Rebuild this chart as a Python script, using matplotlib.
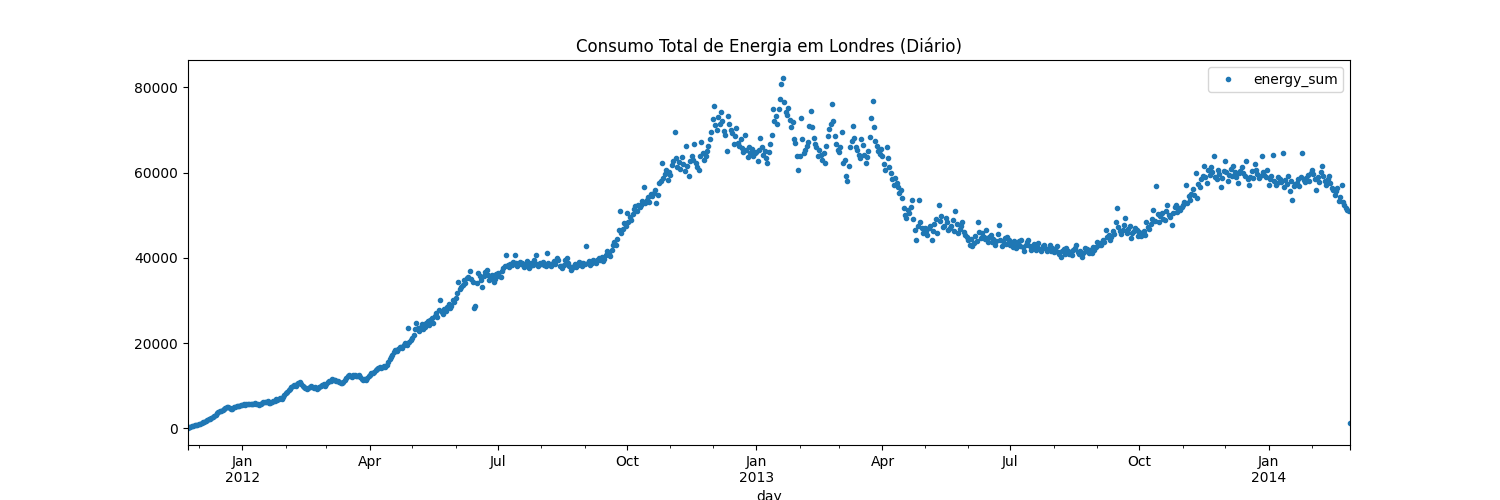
import matplotlib
matplotlib.use('Agg')
import matplotlib.pyplot as plt
import numpy as np
import pandas as pd

# Daily total energy in London, in thousands of kWh
start_day = '2011-11-23'

energy_2011 = [
    # Nov
    0.2, 0.3, 0.4, 0.5, 0.6, 0.7, 0.8, 0.9,
    # Dec
    1.0, 1.1, 1.3, 1.4, 1.6, 1.8, 1.9, 2.1, 2.3, 2.5,
    2.7, 3.0, 3.2, 3.5, 3.8, 4.0, 4.1, 4.3, 4.6, 4.8,
    4.9, 5.0, 4.8, 4.5, 4.6, 4.9, 5.1, 5.2, 5.3, 5.2, 5.4,
]

energy_2012 = [
    # Jan
    5.5, 5.6, 5.5, 5.7, 5.6, 5.8, 5.7, 5.6, 5.8, 5.9,
    5.8, 5.6, 5.5, 5.8, 6.0, 6.1, 6.2, 6.1, 6.3, 6.0,
    5.9, 6.2, 6.4, 6.5, 6.8, 6.7, 6.9, 7.1, 7.0, 7.4, 7.8,
    # Feb
    8.2, 8.5, 8.9, 9.3, 9.6, 9.9, 10.2, 10.0, 10.4, 10.6,
    10.9, 10.5, 10.0, 9.6, 9.4, 9.2, 9.5, 9.8, 9.9, 9.7,
    9.5, 9.6, 9.3, 9.4, 9.7, 9.9, 10.1, 10.3, 10.0,
    # Mar
    10.4, 10.8, 11.2, 11.0, 11.5, 11.4, 11.3, 11.1, 11.2, 10.9,
    10.7, 10.6, 10.9, 11.4, 11.9, 12.2, 12.5, 12.3, 12.1, 12.4,
    12.6, 12.2, 12.3, 12.5, 12.0, 11.6, 11.4, 11.5, 11.3, 11.8, 12.3,
    # Apr
    12.6, 12.9, 13.0, 13.3, 13.6, 13.9, 14.2, 14.4, 14.1, 14.3,
    14.6, 14.4, 14.9, 15.5, 16.2, 16.8, 17.3, 17.8, 18.4, 18.1,
    18.6, 19.0, 19.1, 18.8, 19.5, 20.0, 19.6, 23.5, 20.2, 20.7,
    # May
    21.2, 22.0, 23.2, 24.7, 23.6, 22.9, 23.8, 24.5, 23.3, 23.8,
    24.6, 25.1, 24.2, 25.4, 25.9, 24.8, 26.3, 27.0, 26.1, 27.8,
    30.1, 27.4, 26.9, 28.0, 27.6, 28.5, 29.1, 28.2, 28.7, 30.2, 29.7,
    # Jun
    30.5, 31.7, 34.4, 32.6, 33.1, 33.6, 34.9, 34.0, 35.2, 35.6,
    36.8, 35.1, 34.3, 28.3, 28.8, 34.0, 36.4, 35.7, 34.9, 33.2,
    35.8, 36.6, 37.2, 35.9, 34.8, 35.3, 36.0, 34.4, 35.1, 36.2,
    # Jul
    36.4, 35.8, 35.6, 36.9, 37.5, 38.0, 40.7, 38.4, 37.9, 38.6,
    38.3, 39.0, 40.7, 38.8, 38.2, 38.5, 39.1, 38.8, 38.3, 37.9,
    38.6, 39.2, 37.6, 38.0, 38.9, 38.4, 39.5, 40.7, 38.6, 38.2, 38.8,
    # Aug
    38.5, 39.0, 38.4, 38.1, 41.2, 38.7, 38.3, 38.0, 38.9, 39.3,
    38.6, 40.0, 39.5, 38.2, 38.0, 37.6, 38.4, 39.5, 40.0, 38.8,
    38.1, 37.2, 37.5, 38.0, 38.6, 37.9, 38.4, 39.1, 38.7, 38.2, 38.9,
    # Sep
    38.6, 42.7, 38.9, 39.2, 38.3, 38.8, 39.4, 39.0, 38.7, 39.6,
    39.9, 39.5, 40.1, 39.3, 39.8, 40.6, 41.5, 41.0, 40.4, 41.8,
    42.9, 43.8, 43.1, 44.5, 46.6, 50.9, 45.9, 46.8, 48.2, 47.5,
    # Oct
    50.6, 48.3, 49.5, 48.9, 50.2, 51.5, 52.1, 51.0, 52.4, 52.0,
    52.5, 53.4, 56.5, 52.8, 53.6, 54.2, 53.1, 55.0, 54.4, 55.3,
    56.0, 52.9, 54.7, 57.5, 58.0, 62.3, 58.8, 59.6, 60.7, 58.3, 60.1,
    # Nov
    59.5, 61.8, 62.7, 69.4, 63.5, 61.2, 62.4, 60.9, 63.6, 62.0,
    60.3, 66.2, 61.5, 59.1, 62.8, 64.0, 63.0, 66.6, 62.2, 61.4,
    60.7, 63.9, 67.1, 64.5, 62.9, 63.8, 65.0, 66.2, 67.8, 69.5,
    # Dec
    72.5, 75.6, 71.2, 70.1, 73.0, 71.3, 74.1, 72.2, 69.7, 68.9,
    65.0, 73.3, 71.5, 70.1, 69.2, 66.8, 68.5, 70.4, 67.0, 66.2,
    67.8, 65.8, 64.9, 68.9, 65.4, 63.6, 66.0, 64.7, 65.5, 63.9, 64.7,
]

energy_2013 = [
    # Jan
    64.9, 62.7, 65.4, 68.2, 66.0, 64.2, 65.1, 63.5, 62.3, 64.8,
    66.6, 68.9, 74.8, 72.0, 73.2, 71.3, 75.0, 77.2, 80.7, 82.3,
    76.5, 74.2, 73.6, 75.1, 72.4, 70.6, 71.8, 67.8, 66.9, 63.8, 60.7,
    # Feb
    63.9, 72.9, 67.8, 64.6, 65.4, 66.3, 67.1, 70.9, 74.4, 70.6,
    68.0, 66.7, 65.9, 63.8, 65.4, 64.1, 63.0, 64.5, 62.3, 66.2,
    68.5, 70.3, 71.4, 76.0, 72.0, 68.5, 66.8, 65.4,
    # Mar
    64.8, 66.1, 69.4, 62.3, 63.0, 59.1, 58.0, 61.5, 65.9, 67.3,
    70.9, 68.2, 66.0, 65.4, 64.2, 63.5, 67.8, 66.5, 64.1, 62.3,
    63.7, 65.0, 68.4, 72.9, 76.8, 70.6, 67.4, 66.2, 65.0, 64.3, 65.6,
    # Apr
    63.8, 62.1, 60.7, 65.9, 63.5, 61.4, 60.0, 58.6, 57.2, 58.8,
    57.5, 56.5, 55.2, 56.0, 54.1, 51.8, 50.1, 49.4, 51.2, 50.6,
    52.0, 53.6, 49.0, 46.6, 44.2, 47.5, 53.6, 48.5, 47.1, 45.8,
    # May
    46.9, 46.2, 45.3, 47.0, 47.4, 44.2, 46.4, 48.0, 49.1, 45.8,
    52.5, 48.6, 49.7, 47.2, 47.4, 49.4, 48.3, 46.5, 47.0, 47.4,
    48.8, 46.2, 50.9, 48.0, 45.9, 46.8, 47.5, 48.5, 46.0, 45.4, 45.0,
    # Jun
    44.1, 43.1, 44.4, 42.7, 43.5, 45.2, 44.0, 48.5, 46.1, 44.7,
    45.9, 45.0, 44.3, 46.6, 43.8, 44.9, 45.3, 43.6, 44.5, 43.1,
    44.0, 45.6, 47.8, 44.1, 42.7, 43.9, 44.6, 43.2, 45.0, 44.2,
    # Jul
    43.0, 43.5, 42.6, 43.9, 42.2, 43.1, 44.0, 42.8, 44.2, 42.5,
    41.5, 42.9, 43.6, 44.2, 42.7, 41.9, 42.4, 43.3, 41.8, 42.6,
    43.5, 42.1, 41.7, 42.8, 43.1, 42.3, 41.5, 42.0, 42.9, 41.6, 42.2,
    # Aug
    41.4, 42.0, 42.7, 41.3, 40.8, 40.3, 41.6, 42.1, 41.0, 42.4,
    41.5, 40.9, 41.3, 40.7, 41.8, 42.2, 43.1, 41.4, 40.8, 41.6,
    40.3, 41.1, 42.4, 41.7, 42.0, 41.2, 41.9, 41.2, 42.5, 41.8, 42.6,
    # Sep
    43.8, 42.9, 43.5, 43.1, 44.2, 43.6, 46.6, 44.8, 45.3, 44.1,
    45.0, 46.2, 45.5, 48.5, 51.8, 47.3, 46.2, 45.6, 46.6, 47.8,
    49.4, 45.9, 46.8, 47.5, 44.7, 45.8, 46.3, 47.1, 46.6, 45.2,
    # Oct
    46.0, 45.1, 45.8, 46.4, 45.4, 48.5, 47.2, 46.8, 47.9, 49.0,
    51.3, 48.6, 56.9, 50.2, 48.4, 49.7, 50.5, 49.2, 48.8, 51.0,
    52.5, 50.1, 49.5, 47.8, 50.6, 51.9, 52.5, 50.8, 51.6, 51.3, 52.0,
    # Nov
    52.4, 53.1, 57.2, 52.8, 54.5, 53.6, 55.0, 56.2, 54.8, 60.0,
    54.1, 57.3, 56.6, 58.4, 59.2, 61.5, 58.9, 57.6, 60.7, 59.4,
    61.2, 60.1, 63.8, 59.0, 58.4, 60.5, 59.7, 56.5, 58.8, 60.3,
    # Dec
    62.7, 60.2, 58.0, 59.5, 60.8, 59.3, 61.5, 60.1, 58.9, 57.6,
    59.8, 60.4, 61.2, 60.0, 59.2, 62.6, 58.4, 57.2, 59.0, 60.3,
    58.7, 61.9, 60.5, 59.6, 58.8, 59.1, 63.8, 60.2, 59.5, 58.9, 60.7,
]

energy_2014 = [
    # Jan
    57.2, 58.6, 59.3, 64.2, 58.1, 57.0, 57.6, 59.0, 58.4, 57.9,
    64.7, 56.5, 58.2, 57.4, 59.1, 55.6, 58.0, 53.6, 56.8, 57.3,
    57.6, 58.5, 56.9, 59.0, 64.7, 58.3, 57.7, 58.8, 59.5, 58.1, 59.8,
    # Feb
    60.7, 59.6, 58.4, 56.0, 58.9, 57.8, 60.2, 61.5, 59.3, 58.0,
    57.2, 58.6, 59.1, 57.5, 56.3, 55.9, 54.8, 55.6, 56.4, 53.3,
    54.2, 57.2, 53.0, 52.4, 51.8, 51.3, 51.0, 1.2,
]

energy_sum = np.array(energy_2011 + energy_2012 + energy_2013 + energy_2014) * 1000
days = pd.date_range(start_day, periods=len(energy_sum), freq='D', name='day')

df = pd.DataFrame({'energy_sum': energy_sum}, index=days)

ax = df.plot(style='.', figsize=(15, 5),
             title='Consumo Total de Energia em Londres (Diário)')
plt.savefig('out.png', dpi=100)
